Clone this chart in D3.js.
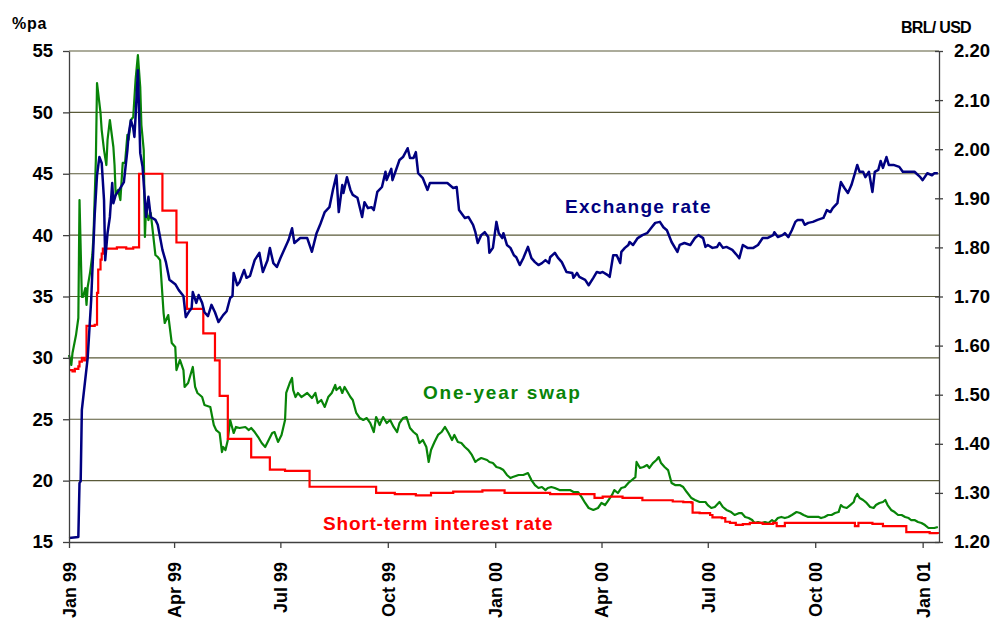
<!DOCTYPE html>
<meta charset="utf-8">
<script src="https://d3js.org/d3.v7.min.js"></script>
<style>
  body { margin: 0; background: #fff; }
  text { font-family: Arial, "Liberation Sans", sans-serif; }
</style>
<svg width="993" height="619"></svg>
<script>
// [days since 1 Jan 1999, value]
var exchangeRate = [
  [0,1.208],[8,1.210],[9,1.320],[10,1.324],[11,1.469],[16,1.575],[19,1.693],[22,1.866],[24,1.947],[26,1.984],
  [28,1.972],[30,1.896],[31,1.774],[33,1.829],[35,1.862],[37,1.931],[38,1.890],[40,1.907],[43,1.917],[47,1.933],
  [50,1.998],[51,2.029],[53,2.059],[55,2.043],[56,2.025],[57,2.066],[59,2.161],[61,1.992],[63,1.964],[66,1.862],
  [68,1.903],[70,1.862],[74,1.856],[76,1.846],[80,1.795],[83,1.770],[86,1.734],[91,1.725],[94,1.713],[98,1.701],
  [100,1.658],[103,1.670],[105,1.676],[106,1.709],[109,1.687],[111,1.703],[114,1.687],[116,1.668],[119,1.660],[122,1.683],
  [125,1.668],[128,1.648],[132,1.662],[135,1.670],[138,1.697],[140,1.701],[141,1.748],[144,1.723],[146,1.729],[150,1.754],
  [152,1.738],[155,1.742],[159,1.774],[163,1.789],[166,1.750],[170,1.774],[172,1.799],[175,1.768],[178,1.760],[181,1.778],
  [188,1.815],[191,1.839],[193,1.809],[198,1.819],[204,1.819],[208,1.791],[212,1.829],[215,1.846],[219,1.872],[223,1.882],
  [226,1.917],[229,1.947],[231,1.872],[234,1.927],[235,1.911],[238,1.943],[241,1.917],[243,1.907],[247,1.901],[251,1.862],
  [253,1.892],[256,1.880],[259,1.882],[261,1.876],[264,1.913],[268,1.923],[271,1.954],[272,1.937],[276,1.960],[277,1.937],
  [283,1.978],[286,1.984],[290,2.002],[292,1.982],[295,1.982],[297,1.994],[299,1.951],[303,1.941],[307,1.917],[309,1.931],
  [324,1.931],[329,1.921],[332,1.923],[334,1.876],[339,1.860],[342,1.862],[346,1.846],[348,1.831],[350,1.809],[353,1.825],
  [356,1.831],[359,1.821],[360,1.789],[363,1.799],[366,1.852],[368,1.829],[371,1.819],[372,1.829],[375,1.805],[378,1.799],
  [381,1.784],[383,1.780],[386,1.764],[389,1.778],[393,1.801],[396,1.778],[399,1.770],[402,1.764],[405,1.768],[408,1.774],
  [411,1.768],[412,1.780],[416,1.789],[419,1.778],[422,1.770],[426,1.750],[431,1.748],[432,1.738],[435,1.748],[437,1.740],
  [442,1.734],[445,1.723],[449,1.738],[452,1.750],[455,1.748],[457,1.750],[461,1.744],[463,1.740],[466,1.784],[469,1.784],
  [472,1.768],[473,1.791],[476,1.799],[479,1.805],[480,1.811],[483,1.805],[487,1.819],[491,1.825],[495,1.829],[499,1.841],
  [502,1.850],[506,1.852],[509,1.841],[512,1.835],[516,1.811],[521,1.791],[523,1.805],[527,1.809],[532,1.805],[536,1.819],
  [539,1.825],[543,1.819],[545,1.801],[547,1.805],[551,1.799],[555,1.801],[557,1.809],[560,1.799],[563,1.801],[568,1.795],
  [572,1.784],[574,1.778],[577,1.805],[581,1.799],[586,1.799],[590,1.805],[594,1.819],[598,1.819],[603,1.825],[604,1.831],
  [607,1.821],[611,1.825],[613,1.829],[616,1.821],[619,1.835],[622,1.852],[624,1.856],[628,1.856],[630,1.846],[633,1.850],
  [637,1.852],[641,1.856],[646,1.860],[649,1.876],[652,1.872],[654,1.880],[658,1.890],[659,1.907],[661,1.933],[664,1.921],
  [667,1.911],[670,1.927],[673,1.951],[675,1.968],[677,1.954],[680,1.954],[682,1.943],[685,1.954],[688,1.913],[690,1.954],
  [693,1.958],[695,1.976],[697,1.962],[700,1.984],[702,1.968],[706,1.968],[711,1.964],[714,1.954],[718,1.954],[724,1.954],
  [729,1.943],[731,1.937],[735,1.951],[739,1.947],[741,1.951],[744,1.951]
];

var swapRate = [
  [0,30.23],[2,29.42],[3,30.40],[6,31.86],[8,33.25],[9,42.86],[11,34.96],[12,34.96],[14,35.69],[15,34.31],
  [16,35.77],[18,36.91],[20,38.38],[21,40.01],[23,46.12],[24,52.39],[27,49.95],[28,48.56],[30,46.93],[32,45.71],
  [33,47.75],[35,49.38],[38,47.18],[39,45.71],[40,43.27],[42,43.68],[44,42.86],[46,45.88],[48,45.88],[50,48.16],
  [51,47.75],[53,49.38],[55,49.62],[57,52.64],[59,54.67],[61,52.07],[62,48.97],[64,46.93],[65,39.85],[66,42.29],
  [68,41.23],[70,41.80],[74,38.38],[76,38.22],[78,37.97],[81,33.65],[82,32.84],[85,33.49],[88,31.21],[91,30.88],
  [92,29.01],[95,29.83],[98,29.01],[99,27.63],[102,27.95],[106,29.26],[108,27.63],[110,27.14],[114,26.81],[116,26.16],
  [121,26.00],[124,24.53],[126,24.12],[129,23.88],[131,22.33],[132,22.74],[134,22.49],[136,23.31],[138,24.94],[141,23.88],
  [143,24.37],[146,24.29],[151,24.37],[154,24.12],[156,24.29],[159,23.96],[162,23.55],[165,23.06],[168,22.74],[171,23.31],
  [174,23.88],[176,23.96],[179,23.15],[182,23.72],[185,24.94],[186,27.14],[189,27.95],[191,28.36],[192,27.38],[194,26.81],
  [196,27.14],[199,26.81],[204,27.14],[208,26.73],[211,27.14],[213,26.32],[216,26.57],[219,26.00],[222,26.81],[225,27.14],
  [228,27.79],[229,27.38],[232,27.63],[234,27.14],[236,27.63],[239,27.14],[241,26.81],[243,26.57],[246,25.51],[249,25.10],
  [252,24.94],[255,25.10],[258,24.69],[261,23.96],[263,25.18],[266,24.53],[269,25.18],[272,24.69],[275,24.94],[278,24.37],
  [281,23.96],[283,24.69],[286,25.10],[289,25.18],[292,24.29],[295,23.96],[298,23.72],[300,23.06],[303,23.31],[306,22.74],
  [308,21.52],[310,22.49],[313,23.15],[316,23.72],[319,23.96],[322,24.37],[325,23.88],[328,23.31],[330,23.72],[333,23.15],
  [336,23.06],[339,22.74],[342,22.49],[345,22.09],[348,21.52],[350,21.68],[353,21.84],[358,21.68],[360,21.52],[363,21.43],
  [366,21.11],[369,21.03],[372,20.86],[375,20.46],[378,20.21],[380,20.29],[385,20.46],[389,20.46],[393,20.62],[396,20.05],
  [399,19.64],[402,19.40],[405,19.48],[408,19.23],[410,19.40],[413,19.48],[416,19.40],[420,19.23],[425,19.23],[429,19.23],
  [432,19.07],[436,19.07],[439,18.66],[442,18.18],[445,17.77],[449,17.61],[453,17.77],[456,18.18],[459,18.01],[462,18.42],
  [465,18.83],[467,19.23],[470,18.99],[473,19.40],[476,19.48],[479,19.81],[482,20.05],[485,20.29],[486,21.52],[489,21.03],
  [492,21.11],[495,21.27],[497,21.03],[500,21.43],[503,21.68],[505,21.92],[507,21.43],[510,21.11],[513,20.86],[516,19.81],
  [519,19.64],[523,19.64],[526,19.48],[529,19.07],[533,18.58],[536,18.42],[540,18.26],[545,18.26],[547,18.01],[550,17.77],
  [553,17.85],[557,18.26],[560,17.85],[563,17.61],[567,17.44],[570,17.20],[574,17.36],[576,17.36],[579,17.04],[582,16.95],
  [585,16.79],[587,16.55],[590,16.63],[593,16.55],[596,16.63],[599,16.55],[602,16.79],[604,16.63],[607,16.95],[610,17.04],
  [613,16.95],[616,17.04],[619,17.20],[623,17.44],[626,17.36],[629,17.20],[633,17.04],[637,17.04],[642,17.04],[644,16.95],
  [647,17.04],[650,17.20],[653,17.20],[656,17.36],[659,17.44],[661,18.01],[663,17.85],[666,17.77],[669,18.01],[672,18.26],
  [673,18.58],[675,18.91],[677,18.58],[680,18.42],[683,18.18],[686,17.85],[689,17.77],[691,18.01],[694,18.18],[697,18.26],
  [699,18.42],[701,18.01],[704,17.61],[707,17.44],[710,17.20],[713,17.20],[716,17.04],[719,16.95],[721,16.79],[724,16.79],
  [727,16.63],[730,16.55],[733,16.38],[736,16.14],[739,16.14],[741,16.14],[744,16.22]
];

// step series: value holds from this day until the next entry
var shortRate = [
  [0,29.0],[3,28.9],[5,29.1],[8,29.3],[9,29.7],[11,30.0],[13,29.8],[15,32.6],[22,32.7],[24,35.3],
  [25,37.2],[27,38.0],[28,38.5],[29,38.9],[41,39.0],[49,38.9],[55,39.0],[60,45.0],[80,42.0],[92,39.4],
  [101,34.0],[115,32.0],[125,29.8],[129,26.9],[136,23.4],[156,21.9],[172,20.9],[185,20.8],[206,19.5],[263,19.0],
  [279,18.9],[297,18.8],[310,19.0],[329,19.1],[354,19.2],[373,19.0],[412,18.9],[450,18.6],[457,18.7],[474,18.6],
  [491,18.4],[517,18.3],[526,18.25],[533,18.2],[534,17.4],[540,17.35],[549,17.2],[551,17.0],[559,16.95],[562,16.65],
  [566,16.55],[571,16.4],[577,16.45],[583,16.55],[594,16.47],[603,16.55],[606,16.3],[613,16.55],[673,16.3],[676,16.55],
  [688,16.47],[697,16.3],[717,15.8],[729,15.8],[737,15.73],[744,15.65]
];

var leftTicks = [15, 20, 25, 30, 35, 40, 45, 50, 55];
var rightTicks = [1.2, 1.3, 1.4, 1.5, 1.6, 1.7, 1.8, 1.9, 2.0, 2.1, 2.2];

var svg = d3.select("svg"),
    margin = { top: 51, right: 54, bottom: 77, left: 69 },
    width = +svg.attr("width") - margin.left - margin.right,
    height = +svg.attr("height") - margin.top - margin.bottom,
    g = svg.append("g").attr("transform", "translate(" + margin.left + "," + margin.top + ")");

var start = new Date(1999, 0, 1);
function toDate(d) { return d3.timeDay.offset(start, d); }

var x = d3.scaleTime()
    .domain([start, new Date(2001, 0, 15)])
    .range([0, width]);

var yL = d3.scaleLinear().domain([15, 55]).range([height, 0]);
var yR = d3.scaleLinear().domain([1.2, 2.2]).range([height, 0]);

// gridlines
g.append("g")
    .selectAll("line")
    .data(leftTicks.slice(1))
    .enter().append("line")
    .attr("x1", 0)
    .attr("x2", width)
    .attr("y1", function (d) { return yL(d); })
    .attr("y2", function (d) { return yL(d); })
    .attr("stroke", "#5a5a38")
    .attr("stroke-width", 1.2);

// series
var lineL = d3.line()
    .x(function (d) { return x(toDate(d[0])); })
    .y(function (d) { return yL(d[1]); });

var lineR = d3.line()
    .x(function (d) { return x(toDate(d[0])); })
    .y(function (d) { return yR(d[1]); });

g.append("path")
    .datum(swapRate)
    .attr("fill", "none")
    .attr("stroke", "#088408")
    .attr("stroke-width", 2.2)
    .attr("stroke-linejoin", "round")
    .attr("d", lineL);

g.append("path")
    .datum(shortRate)
    .attr("fill", "none")
    .attr("stroke", "#ff0000")
    .attr("stroke-width", 2.2)
    .attr("d", lineL.curve(d3.curveStepAfter));

g.append("path")
    .datum(exchangeRate)
    .attr("fill", "none")
    .attr("stroke", "#000080")
    .attr("stroke-width", 2.5)
    .attr("stroke-linejoin", "round")
    .attr("d", lineR);

// axes
var axisColor = "#404040";

var leftAxis = g.append("g")
    .call(d3.axisLeft(yL).tickValues(leftTicks).tickSize(6).tickSizeOuter(0).tickPadding(10));

var rightAxis = g.append("g")
    .attr("transform", "translate(" + width + ",0)")
    .call(d3.axisRight(yR).tickValues(rightTicks).tickFormat(d3.format(".2f"))
        .tickSize(4).tickSizeOuter(0).tickPadding(11));
rightAxis.selectAll(".tick line").attr("x1", -4).attr("x2", 4);

var bottomAxis = g.append("g")
    .attr("transform", "translate(0," + height + ")")
    .call(d3.axisBottom(x).ticks(d3.timeMonth.every(3)).tickFormat(d3.timeFormat("%b %y"))
        .tickSize(6).tickSizeOuter(0));
bottomAxis.selectAll("text")
    .attr("transform", "rotate(-90)")
    .attr("text-anchor", "end")
    .attr("x", -20)
    .attr("y", 0)
    .attr("dy", "0.36em")
    .attr("font-size", 18);

[leftAxis, rightAxis, bottomAxis].forEach(function (a) {
    a.selectAll("path.domain").attr("stroke", axisColor).attr("stroke-width", 1.3);
    a.selectAll(".tick line").attr("stroke", axisColor).attr("stroke-width", 1.3);
    a.selectAll("text")
        .attr("font-family", "Arial, 'Liberation Sans', sans-serif")
        .attr("font-weight", "bold")
        .attr("fill", "#000");
});
leftAxis.selectAll("text").attr("font-size", 18.5);
rightAxis.selectAll("text").attr("font-size", 18.5);

// unit labels
svg.append("text")
    .attr("x", 12).attr("y", 29)
    .attr("font-size", 16).attr("font-weight", "bold")
    .attr("letter-spacing", 0.8)
    .text("%pa");

svg.append("text")
    .attr("x", 901).attr("y", 33)
    .attr("font-size", 16).attr("font-weight", "bold")
    .attr("letter-spacing", -0.7)
    .text("BRL/ USD");

// series labels
var labels = [
    { text: "Exchange rate", x: 565, y: 212.5, color: "#000080", spacing: 1.3 },
    { text: "One-year swap", x: 423, y: 399, color: "#088408", spacing: 1.8 },
    { text: "Short-term interest rate", x: 323, y: 530, color: "#ff0000", spacing: 0.8 }
];

svg.append("g")
    .selectAll("text")
    .data(labels)
    .enter().append("text")
    .attr("x", function (d) { return d.x; })
    .attr("y", function (d) { return d.y; })
    .attr("font-size", 19)
    .attr("font-weight", "bold")
    .attr("letter-spacing", function (d) { return d.spacing; })
    .attr("fill", function (d) { return d.color; })
    .text(function (d) { return d.text; });
</script>
